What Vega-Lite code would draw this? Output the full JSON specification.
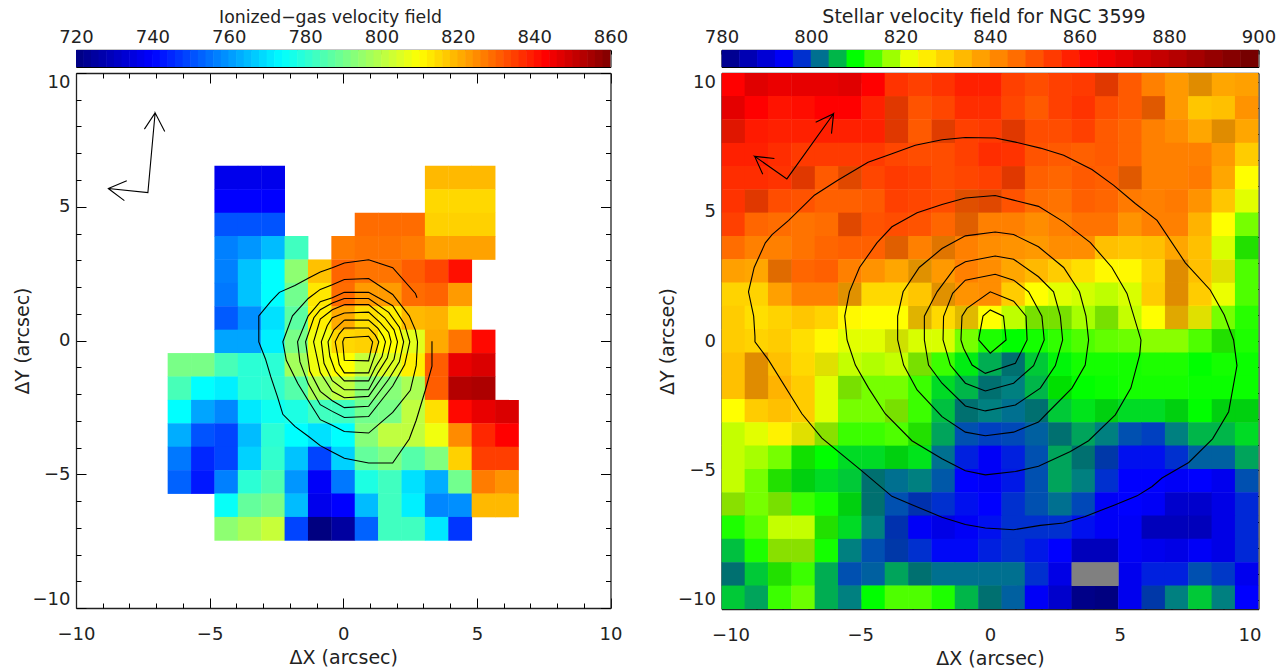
{"$schema":"https://vega.github.io/schema/vega-lite/v6.json","background":"white","padding":{"left":13,"top":6,"right":0,"bottom":0},"autosize":{"type":"pad"},"bounds":"flush","spacing":{"row":6,"column":110.5},"columns":2,"resolve":{"scale":{"color":"independent"}},
"config":{"view":{"stroke":null},"axis":{"labelFont":"DejaVu Sans","titleFont":"DejaVu Sans","labelFontSize":18,"titleFontSize":19,"labelColor":"#222","titleColor":"#222","titleFontWeight":"normal","grid":false,"tickColor":"black","domainColor":"#222","domainWidth":1.3,"zindex":1,"labelFlush":false}},
"datasets":{
"barG":[{"v":721},{"v":723},{"v":725},{"v":727},{"v":729},{"v":731},{"v":733},{"v":735},{"v":737},{"v":739},{"v":741},{"v":743},{"v":745},{"v":747},{"v":749},{"v":751},{"v":753},{"v":755},{"v":757},{"v":759},{"v":761},{"v":763},{"v":765},{"v":767},{"v":769},{"v":771},{"v":773},{"v":775},{"v":777},{"v":779},{"v":781},{"v":783},{"v":785},{"v":787},{"v":789},{"v":791},{"v":793},{"v":795},{"v":797},{"v":799},{"v":801},{"v":803},{"v":805},{"v":807},{"v":809},{"v":811},{"v":813},{"v":815},{"v":817},{"v":819},{"v":821},{"v":823},{"v":825},{"v":827},{"v":829},{"v":831},{"v":833},{"v":835},{"v":837},{"v":839},{"v":841},{"v":843},{"v":845},{"v":847},{"v":849},{"v":851},{"v":853},{"v":855},{"v":857},{"v":859}],
"barS":[{"v":782},{"v":786},{"v":790},{"v":794},{"v":798},{"v":802},{"v":806},{"v":810},{"v":814},{"v":818},{"v":822},{"v":826},{"v":830},{"v":834},{"v":838},{"v":842},{"v":846},{"v":850},{"v":854},{"v":858},{"v":862},{"v":866},{"v":870},{"v":874},{"v":878},{"v":882},{"v":886},{"v":890},{"v":894},{"v":898}],
"gas":[
{"x":-4.375,"y":6.085,"v":737},{"x":-3.5,"y":6.085,"v":737},{"x":-2.625,"y":6.085,"v":737},{"x":3.5,"y":6.085,"v":819},{"x":4.375,"y":6.085,"v":819},{"x":5.25,"y":6.085,"v":819},
{"x":-4.375,"y":5.21,"v":740},{"x":-3.5,"y":5.21,"v":740},{"x":-2.625,"y":5.21,"v":740},{"x":3.5,"y":5.21,"v":815},{"x":4.375,"y":5.21,"v":815},{"x":5.25,"y":5.21,"v":815},
{"x":-4.375,"y":4.335,"v":751},{"x":-3.5,"y":4.335,"v":751},{"x":-2.625,"y":4.335,"v":751},{"x":0.875,"y":4.335,"v":829},{"x":1.75,"y":4.335,"v":829},{"x":2.625,"y":4.335,"v":829},{"x":3.5,"y":4.335,"v":816},{"x":4.375,"y":4.335,"v":816},{"x":5.25,"y":4.335,"v":816},
{"x":-4.375,"y":3.46,"v":757},{"x":-3.5,"y":3.46,"v":760},{"x":-2.625,"y":3.46,"v":765},{"x":-1.75,"y":3.46,"v":783},{"x":0,"y":3.46,"v":827},{"x":0.875,"y":3.46,"v":828},{"x":1.75,"y":3.46,"v":828},{"x":2.625,"y":3.46,"v":827},{"x":3.5,"y":3.46,"v":822},{"x":4.375,"y":3.46,"v":822},{"x":5.25,"y":3.46,"v":822},
{"x":-4.375,"y":2.585,"v":757},{"x":-3.5,"y":2.585,"v":766},{"x":-2.625,"y":2.585,"v":774},{"x":-1.75,"y":2.585,"v":794},{"x":-0.875,"y":2.585,"v":818},{"x":0,"y":2.585,"v":830},{"x":0.875,"y":2.585,"v":828},{"x":1.75,"y":2.585,"v":828},{"x":2.625,"y":2.585,"v":831},{"x":3.5,"y":2.585,"v":834},{"x":4.375,"y":2.585,"v":841},
{"x":-4.375,"y":1.71,"v":756},{"x":-3.5,"y":1.71,"v":766},{"x":-2.625,"y":1.71,"v":774},{"x":-1.75,"y":1.71,"v":790},{"x":-0.875,"y":1.71,"v":813},{"x":0,"y":1.71,"v":829},{"x":0.875,"y":1.71,"v":823},{"x":1.75,"y":1.71,"v":823},{"x":2.625,"y":1.71,"v":829},{"x":3.5,"y":1.71,"v":830},{"x":4.375,"y":1.71,"v":823},
{"x":-4.375,"y":0.835,"v":752},{"x":-3.5,"y":0.835,"v":759},{"x":-2.625,"y":0.835,"v":770},{"x":-1.75,"y":0.835,"v":787},{"x":-0.875,"y":0.835,"v":812},{"x":0,"y":0.835,"v":821},{"x":0.875,"y":0.835,"v":814},{"x":1.75,"y":0.835,"v":812},{"x":2.625,"y":0.835,"v":819},{"x":3.5,"y":0.835,"v":820},{"x":4.375,"y":0.835,"v":814},
{"x":-4.375,"y":-0.04,"v":762},{"x":-3.5,"y":-0.04,"v":762},{"x":-2.625,"y":-0.04,"v":772},{"x":-1.75,"y":-0.04,"v":791},{"x":-0.875,"y":-0.04,"v":808},{"x":0,"y":-0.04,"v":815},{"x":0.875,"y":-0.04,"v":816},{"x":1.75,"y":-0.04,"v":810},{"x":2.625,"y":-0.04,"v":806},{"x":3.5,"y":-0.04,"v":821},{"x":4.375,"y":-0.04,"v":828},{"x":5.25,"y":-0.04,"v":842},
{"x":-6.125,"y":-0.915,"v":791},{"x":-5.25,"y":-0.915,"v":791},{"x":-4.375,"y":-0.915,"v":784},{"x":-3.5,"y":-0.915,"v":780},{"x":-2.625,"y":-0.915,"v":780},{"x":-1.75,"y":-0.915,"v":797},{"x":-0.875,"y":-0.915,"v":808},{"x":0,"y":-0.915,"v":810},{"x":0.875,"y":-0.915,"v":802},{"x":1.75,"y":-0.915,"v":805},{"x":2.625,"y":-0.915,"v":812},{"x":3.5,"y":-0.915,"v":831},{"x":4.375,"y":-0.915,"v":846},{"x":5.25,"y":-0.915,"v":848},
{"x":-6.125,"y":-1.79,"v":784},{"x":-5.25,"y":-1.79,"v":774},{"x":-4.375,"y":-1.79,"v":772},{"x":-3.5,"y":-1.79,"v":780},{"x":-2.625,"y":-1.79,"v":781},{"x":-1.75,"y":-1.79,"v":786},{"x":-0.875,"y":-1.79,"v":798},{"x":0,"y":-1.79,"v":801},{"x":0.875,"y":-1.79,"v":793},{"x":1.75,"y":-1.79,"v":793},{"x":2.625,"y":-1.79,"v":798},{"x":3.5,"y":-1.79,"v":831},{"x":4.375,"y":-1.79,"v":853},{"x":5.25,"y":-1.79,"v":854},
{"x":-6.125,"y":-2.665,"v":774},{"x":-5.25,"y":-2.665,"v":762},{"x":-4.375,"y":-2.665,"v":758},{"x":-3.5,"y":-2.665,"v":771},{"x":-2.625,"y":-2.665,"v":776},{"x":-1.75,"y":-2.665,"v":778},{"x":-0.875,"y":-2.665,"v":783},{"x":0,"y":-2.665,"v":783},{"x":0.875,"y":-2.665,"v":790},{"x":1.75,"y":-2.665,"v":791},{"x":2.625,"y":-2.665,"v":801},{"x":3.5,"y":-2.665,"v":814},{"x":4.375,"y":-2.665,"v":842},{"x":5.25,"y":-2.665,"v":846},{"x":6.125,"y":-2.665,"v":848},
{"x":-6.125,"y":-3.54,"v":763},{"x":-5.25,"y":-3.54,"v":751},{"x":-4.375,"y":-3.54,"v":749},{"x":-3.5,"y":-3.54,"v":765},{"x":-2.625,"y":-3.54,"v":780},{"x":-1.75,"y":-3.54,"v":774},{"x":-0.875,"y":-3.54,"v":770},{"x":0,"y":-3.54,"v":774},{"x":0.875,"y":-3.54,"v":793},{"x":1.75,"y":-3.54,"v":801},{"x":2.625,"y":-3.54,"v":801},{"x":3.5,"y":-3.54,"v":808},{"x":4.375,"y":-3.54,"v":825},{"x":5.25,"y":-3.54,"v":838},{"x":6.125,"y":-3.54,"v":843},
{"x":-6.125,"y":-4.415,"v":756},{"x":-5.25,"y":-4.415,"v":745},{"x":-4.375,"y":-4.415,"v":749},{"x":-3.5,"y":-4.415,"v":768},{"x":-2.625,"y":-4.415,"v":781},{"x":-1.75,"y":-4.415,"v":766},{"x":-0.875,"y":-4.415,"v":749},{"x":0,"y":-4.415,"v":768},{"x":0.875,"y":-4.415,"v":788},{"x":1.75,"y":-4.415,"v":792},{"x":2.625,"y":-4.415,"v":786},{"x":3.5,"y":-4.415,"v":792},{"x":4.375,"y":-4.415,"v":816},{"x":5.25,"y":-4.415,"v":835},{"x":6.125,"y":-4.415,"v":835},
{"x":-6.125,"y":-5.29,"v":753},{"x":-5.25,"y":-5.29,"v":743},{"x":-4.375,"y":-5.29,"v":757},{"x":-3.5,"y":-5.29,"v":780},{"x":-2.625,"y":-5.29,"v":785},{"x":-1.75,"y":-5.29,"v":760},{"x":-0.875,"y":-5.29,"v":739},{"x":0,"y":-5.29,"v":756},{"x":0.875,"y":-5.29,"v":778},{"x":1.75,"y":-5.29,"v":783},{"x":2.625,"y":-5.29,"v":770},{"x":3.5,"y":-5.29,"v":763},{"x":4.375,"y":-5.29,"v":790},{"x":5.25,"y":-5.29,"v":827},{"x":6.125,"y":-5.29,"v":824},
{"x":-4.375,"y":-6.165,"v":775},{"x":-3.5,"y":-6.165,"v":788},{"x":-2.625,"y":-6.165,"v":791},{"x":-1.75,"y":-6.165,"v":765},{"x":-0.875,"y":-6.165,"v":737},{"x":0,"y":-6.165,"v":740},{"x":0.875,"y":-6.165,"v":765},{"x":1.75,"y":-6.165,"v":783},{"x":2.625,"y":-6.165,"v":772},{"x":3.5,"y":-6.165,"v":758},{"x":4.375,"y":-6.165,"v":759},{"x":5.25,"y":-6.165,"v":819},{"x":6.125,"y":-6.165,"v":819},
{"x":-4.375,"y":-7.04,"v":794},{"x":-3.5,"y":-7.04,"v":798},{"x":-2.625,"y":-7.04,"v":802},{"x":-1.75,"y":-7.04,"v":749},{"x":-0.875,"y":-7.04,"v":720},{"x":0,"y":-7.04,"v":725},{"x":0.875,"y":-7.04,"v":753},{"x":1.75,"y":-7.04,"v":783},{"x":2.625,"y":-7.04,"v":783},{"x":3.5,"y":-7.04,"v":771},{"x":4.375,"y":-7.04,"v":747}
],
"gasLines":[
{"c":1,"i":0,"x":2.76,"y":1.6},{"c":1,"i":1,"x":2.7,"y":1.76},{"c":1,"i":2,"x":1.85,"y":2.72},{"c":1,"i":3,"x":0.95,"y":3.02},{"c":1,"i":4,"x":0.04,"y":2.9},{"c":1,"i":5,"x":-0.41,"y":2.72},{"c":1,"i":6,"x":-0.86,"y":2.56},{"c":1,"i":7,"x":-1.31,"y":2.33},{"c":1,"i":8,"x":-1.81,"y":2.06},{"c":1,"i":9,"x":-2.39,"y":1.8},{"c":1,"i":10,"x":-2.71,"y":1.46},{"c":1,"i":11,"x":-3.16,"y":0.92},{"c":1,"i":12,"x":-3.16,"y":-0.05},{"c":1,"i":13,"x":-2.91,"y":-0.69},{"c":1,"i":14,"x":-2.71,"y":-1.36},{"c":1,"i":15,"x":-2.46,"y":-2.11},{"c":1,"i":16,"x":-2.26,"y":-2.76},{"c":1,"i":17,"x":-1.81,"y":-3.21},{"c":1,"i":18,"x":-1.31,"y":-3.58},{"c":1,"i":19,"x":-0.86,"y":-3.93},{"c":1,"i":20,"x":-0.41,"y":-4.17},{"c":1,"i":21,"x":0.04,"y":-4.4},{"c":1,"i":22,"x":0.95,"y":-4.58},{"c":1,"i":23,"x":1.85,"y":-4.58},{"c":1,"i":24,"x":2.47,"y":-3.68},{"c":1,"i":25,"x":2.73,"y":-2.98},{"c":1,"i":26,"x":3.07,"y":-1.86},{"c":1,"i":27,"x":3.32,"y":-0.96},{"c":1,"i":28,"x":3.32,"y":-0.03},
{"c":2,"i":0,"x":2.78,"y":-0.05},{"c":2,"i":1,"x":2.7,"y":0.39},{"c":2,"i":2,"x":2.47,"y":0.92},{"c":2,"i":3,"x":1.85,"y":1.72},{"c":2,"i":4,"x":0.95,"y":2.32},{"c":2,"i":5,"x":0.04,"y":2.28},{"c":2,"i":6,"x":-0.41,"y":2.08},{"c":2,"i":7,"x":-0.86,"y":1.91},{"c":2,"i":8,"x":-1.31,"y":1.57},{"c":2,"i":9,"x":-1.9,"y":0.92},{"c":2,"i":10,"x":-2.26,"y":-0.05},{"c":2,"i":11,"x":-2.13,"y":-0.74},{"c":2,"i":12,"x":-1.7,"y":-1.61},{"c":2,"i":13,"x":-1.31,"y":-2.24},{"c":2,"i":14,"x":-0.86,"y":-2.96},{"c":2,"i":15,"x":-0.41,"y":-3.17},{"c":2,"i":16,"x":0.04,"y":-3.4},{"c":2,"i":17,"x":0.95,"y":-3.46},{"c":2,"i":18,"x":1.85,"y":-2.69},{"c":2,"i":19,"x":2.51,"y":-1.86},{"c":2,"i":20,"x":2.73,"y":-0.93},{"c":2,"i":21,"x":2.78,"y":-0.05},
{"c":3,"i":0,"x":0.04,"y":1.8},{"c":3,"i":1,"x":0.95,"y":1.8},{"c":3,"i":2,"x":1.85,"y":1.3},{"c":3,"i":3,"x":2.3,"y":0.6},{"c":3,"i":4,"x":2.49,"y":-0.05},{"c":3,"i":5,"x":2.3,"y":-0.9},{"c":3,"i":6,"x":1.85,"y":-1.7},{"c":3,"i":7,"x":0.95,"y":-2.84},{"c":3,"i":8,"x":0.04,"y":-2.88},{"c":3,"i":9,"x":-0.41,"y":-2.65},{"c":3,"i":10,"x":-0.86,"y":-2.4},{"c":3,"i":11,"x":-1.31,"y":-1.62},{"c":3,"i":12,"x":-1.62,"y":-0.8},{"c":3,"i":13,"x":-1.71,"y":-0.05},{"c":3,"i":14,"x":-1.31,"y":0.92},{"c":3,"i":15,"x":-0.86,"y":1.45},{"c":3,"i":16,"x":-0.41,"y":1.6},{"c":3,"i":17,"x":0.04,"y":1.8},
{"c":4,"i":0,"x":0.04,"y":1.57},{"c":4,"i":1,"x":0.95,"y":1.57},{"c":4,"i":2,"x":1.7,"y":1.05},{"c":4,"i":3,"x":2.1,"y":0.5},{"c":4,"i":4,"x":2.26,"y":-0.05},{"c":4,"i":5,"x":2.1,"y":-0.8},{"c":4,"i":6,"x":1.7,"y":-1.45},{"c":4,"i":7,"x":0.95,"y":-2.46},{"c":4,"i":8,"x":0.04,"y":-2.51},{"c":4,"i":9,"x":-0.41,"y":-2.25},{"c":4,"i":10,"x":-0.86,"y":-1.9},{"c":4,"i":11,"x":-1.25,"y":-1.15},{"c":4,"i":12,"x":-1.41,"y":-0.05},{"c":4,"i":13,"x":-1.1,"y":0.85},{"c":4,"i":14,"x":-0.86,"y":1.15},{"c":4,"i":15,"x":-0.41,"y":1.4},{"c":4,"i":16,"x":0.04,"y":1.57},
{"c":5,"i":0,"x":0.04,"y":1.34},{"c":5,"i":1,"x":0.95,"y":1.34},{"c":5,"i":2,"x":1.55,"y":0.85},{"c":5,"i":3,"x":1.9,"y":0.4},{"c":5,"i":4,"x":2.03,"y":-0.05},{"c":5,"i":5,"x":1.9,"y":-0.7},{"c":5,"i":6,"x":1.5,"y":-1.3},{"c":5,"i":7,"x":0.95,"y":-2.09},{"c":5,"i":8,"x":0.04,"y":-2.14},{"c":5,"i":9,"x":-0.41,"y":-1.9},{"c":5,"i":10,"x":-0.86,"y":-1.2},{"c":5,"i":11,"x":-1.11,"y":-0.05},{"c":5,"i":12,"x":-0.86,"y":0.8},{"c":5,"i":13,"x":-0.41,"y":1.15},{"c":5,"i":14,"x":0.04,"y":1.34},
{"c":6,"i":0,"x":0.04,"y":1.03},{"c":6,"i":1,"x":0.95,"y":1.06},{"c":6,"i":2,"x":1.4,"y":0.65},{"c":6,"i":3,"x":1.7,"y":0.3},{"c":6,"i":4,"x":1.79,"y":-0.05},{"c":6,"i":5,"x":1.65,"y":-0.65},{"c":6,"i":6,"x":1.3,"y":-1.2},{"c":6,"i":7,"x":0.95,"y":-1.84},{"c":6,"i":8,"x":0.04,"y":-1.84},{"c":6,"i":9,"x":-0.41,"y":-1.5},{"c":6,"i":10,"x":-0.72,"y":-0.85},{"c":6,"i":11,"x":-0.82,"y":-0.05},{"c":6,"i":12,"x":-0.6,"y":0.55},{"c":6,"i":13,"x":-0.41,"y":0.85},{"c":6,"i":14,"x":0.04,"y":1.03},
{"c":7,"i":0,"x":0.04,"y":0.76},{"c":7,"i":1,"x":0.95,"y":0.76},{"c":7,"i":2,"x":1.3,"y":0.45},{"c":7,"i":3,"x":1.5,"y":0.15},{"c":7,"i":4,"x":1.58,"y":-0.05},{"c":7,"i":5,"x":1.45,"y":-0.6},{"c":7,"i":6,"x":1.2,"y":-1},{"c":7,"i":7,"x":0.95,"y":-1.51},{"c":7,"i":8,"x":0.04,"y":-1.51},{"c":7,"i":9,"x":-0.3,"y":-1.15},{"c":7,"i":10,"x":-0.5,"y":-0.6},{"c":7,"i":11,"x":-0.57,"y":-0.05},{"c":7,"i":12,"x":-0.35,"y":0.4},{"c":7,"i":13,"x":0.04,"y":0.76},
{"c":8,"i":0,"x":0.04,"y":0.47},{"c":8,"i":1,"x":0.95,"y":0.47},{"c":8,"i":2,"x":1.2,"y":0.2},{"c":8,"i":3,"x":1.33,"y":-0.05},{"c":8,"i":4,"x":1.2,"y":-0.5},{"c":8,"i":5,"x":0.95,"y":-1.21},{"c":8,"i":6,"x":0.04,"y":-1.21},{"c":8,"i":7,"x":-0.15,"y":-0.9},{"c":8,"i":8,"x":-0.3,"y":-0.05},{"c":8,"i":9,"x":-0.15,"y":0.25},{"c":8,"i":10,"x":0.04,"y":0.47},
{"c":9,"i":0,"x":0.04,"y":0.1},{"c":9,"i":1,"x":0.95,"y":0.16},{"c":9,"i":2,"x":1.1,"y":-0.05},{"c":9,"i":3,"x":0.95,"y":-0.76},{"c":9,"i":4,"x":0.04,"y":-0.74},{"c":9,"i":5,"x":-0.02,"y":-0.05},{"c":9,"i":6,"x":0.04,"y":0.1},
{"c":10,"i":0,"x":-7.44,"y":7.9},{"c":10,"i":1,"x":-7.04,"y":8.51},{"c":10,"i":2,"x":-6.68,"y":7.81},{"c":10,"i":3,"x":-7.04,"y":8.51},{"c":10,"i":4,"x":-7.31,"y":5.53},{"c":10,"i":5,"x":-8.79,"y":5.68},{"c":10,"i":6,"x":-8.1,"y":5.97},{"c":10,"i":7,"x":-8.79,"y":5.68},{"c":10,"i":8,"x":-8.19,"y":5.23}
],
"stars":[
{"x":-9.9,"y":9.9,"v":863},{"x":-9,"y":9.9,"v":871},{"x":-8.1,"y":9.9,"v":868},{"x":-7.2,"y":9.9,"v":869},{"x":-6.3,"y":9.9,"v":869},{"x":-5.4,"y":9.9,"v":871},{"x":-4.5,"y":9.9,"v":863},{"x":-3.6,"y":9.9,"v":855},{"x":-2.7,"y":9.9,"v":853},{"x":-1.8,"y":9.9,"v":855},{"x":-0.9,"y":9.9,"v":858},{"x":0,"y":9.9,"v":858},{"x":0.9,"y":9.9,"v":853},{"x":1.8,"y":9.9,"v":851},{"x":2.7,"y":9.9,"v":853},{"x":3.6,"y":9.9,"v":854},{"x":4.5,"y":9.9,"v":853,"d":1},{"x":5.4,"y":9.9,"v":849},{"x":6.3,"y":9.9,"v":843},{"x":7.2,"y":9.9,"v":839},{"x":8.1,"y":9.9,"v":838,"d":1},{"x":9,"y":9.9,"v":837},{"x":9.9,"y":9.9,"v":838},
{"x":-9.9,"y":9,"v":870},{"x":-9,"y":9,"v":863},{"x":-8.1,"y":9,"v":860},{"x":-7.2,"y":9,"v":861},{"x":-6.3,"y":9,"v":863},{"x":-5.4,"y":9,"v":863},{"x":-4.5,"y":9,"v":858},{"x":-3.6,"y":9,"v":853,"d":1},{"x":-2.7,"y":9,"v":850},{"x":-1.8,"y":9,"v":852},{"x":-0.9,"y":9,"v":856},{"x":0,"y":9,"v":856},{"x":0.9,"y":9,"v":852},{"x":1.8,"y":9,"v":849},{"x":2.7,"y":9,"v":853},{"x":3.6,"y":9,"v":855},{"x":4.5,"y":9,"v":851},{"x":5.4,"y":9,"v":849},{"x":6.3,"y":9,"v":847,"d":1},{"x":7.2,"y":9,"v":839},{"x":8.1,"y":9,"v":832},{"x":9,"y":9,"v":833},{"x":9.9,"y":9,"v":840},
{"x":-9.9,"y":8.1,"v":859,"d":1},{"x":-9,"y":8.1,"v":859},{"x":-8.1,"y":8.1,"v":858},{"x":-7.2,"y":8.1,"v":858},{"x":-6.3,"y":8.1,"v":858},{"x":-5.4,"y":8.1,"v":858},{"x":-4.5,"y":8.1,"v":858},{"x":-3.6,"y":8.1,"v":853,"d":1},{"x":-2.7,"y":8.1,"v":849},{"x":-1.8,"y":8.1,"v":852,"d":1},{"x":-0.9,"y":8.1,"v":853},{"x":0,"y":8.1,"v":854},{"x":0.9,"y":8.1,"v":853,"d":1},{"x":1.8,"y":8.1,"v":851},{"x":2.7,"y":8.1,"v":851},{"x":3.6,"y":8.1,"v":853},{"x":4.5,"y":8.1,"v":849},{"x":5.4,"y":8.1,"v":847},{"x":6.3,"y":8.1,"v":843},{"x":7.2,"y":8.1,"v":841},{"x":8.1,"y":8.1,"v":837},{"x":9,"y":8.1,"v":838,"d":1},{"x":9.9,"y":8.1,"v":837},
{"x":-9.9,"y":7.2,"v":858},{"x":-9,"y":7.2,"v":858},{"x":-8.1,"y":7.2,"v":856},{"x":-7.2,"y":7.2,"v":854},{"x":-6.3,"y":7.2,"v":854},{"x":-5.4,"y":7.2,"v":854},{"x":-4.5,"y":7.2,"v":854},{"x":-3.6,"y":7.2,"v":852},{"x":-2.7,"y":7.2,"v":851},{"x":-1.8,"y":7.2,"v":851},{"x":-0.9,"y":7.2,"v":853},{"x":0,"y":7.2,"v":856},{"x":0.9,"y":7.2,"v":855},{"x":1.8,"y":7.2,"v":850},{"x":2.7,"y":7.2,"v":849},{"x":3.6,"y":7.2,"v":848},{"x":4.5,"y":7.2,"v":849},{"x":5.4,"y":7.2,"v":847},{"x":6.3,"y":7.2,"v":843},{"x":7.2,"y":7.2,"v":843},{"x":8.1,"y":7.2,"v":843},{"x":9,"y":7.2,"v":839},{"x":9.9,"y":7.2,"v":831},
{"x":-9.9,"y":6.3,"v":856},{"x":-9,"y":6.3,"v":856},{"x":-8.1,"y":6.3,"v":855},{"x":-7.2,"y":6.3,"v":853,"d":1},{"x":-6.3,"y":6.3,"v":849},{"x":-5.4,"y":6.3,"v":850,"d":1},{"x":-4.5,"y":6.3,"v":852},{"x":-3.6,"y":6.3,"v":854},{"x":-2.7,"y":6.3,"v":853},{"x":-1.8,"y":6.3,"v":851},{"x":-0.9,"y":6.3,"v":852},{"x":0,"y":6.3,"v":853},{"x":0.9,"y":6.3,"v":853,"d":1},{"x":1.8,"y":6.3,"v":848},{"x":2.7,"y":6.3,"v":847},{"x":3.6,"y":6.3,"v":849},{"x":4.5,"y":6.3,"v":848},{"x":5.4,"y":6.3,"v":847,"d":1},{"x":6.3,"y":6.3,"v":843},{"x":7.2,"y":6.3,"v":843},{"x":8.1,"y":6.3,"v":844},{"x":9,"y":6.3,"v":837},{"x":9.9,"y":6.3,"v":823},
{"x":-9.9,"y":5.4,"v":855},{"x":-9,"y":5.4,"v":853,"d":1},{"x":-8.1,"y":5.4,"v":851},{"x":-7.2,"y":5.4,"v":850},{"x":-6.3,"y":5.4,"v":848},{"x":-5.4,"y":5.4,"v":848},{"x":-4.5,"y":5.4,"v":849},{"x":-3.6,"y":5.4,"v":853},{"x":-2.7,"y":5.4,"v":852},{"x":-1.8,"y":5.4,"v":851},{"x":-0.9,"y":5.4,"v":849,"d":1},{"x":0,"y":5.4,"v":850,"d":1},{"x":0.9,"y":5.4,"v":850},{"x":1.8,"y":5.4,"v":846},{"x":2.7,"y":5.4,"v":845},{"x":3.6,"y":5.4,"v":848},{"x":4.5,"y":5.4,"v":847},{"x":5.4,"y":5.4,"v":844},{"x":6.3,"y":5.4,"v":843},{"x":7.2,"y":5.4,"v":844},{"x":8.1,"y":5.4,"v":840},{"x":9,"y":5.4,"v":832},{"x":9.9,"y":5.4,"v":821.5},
{"x":-9.9,"y":4.5,"v":853},{"x":-9,"y":4.5,"v":847},{"x":-8.1,"y":4.5,"v":846},{"x":-7.2,"y":4.5,"v":845},{"x":-6.3,"y":4.5,"v":846},{"x":-5.4,"y":4.5,"v":850,"d":1},{"x":-4.5,"y":4.5,"v":850},{"x":-3.6,"y":4.5,"v":851},{"x":-2.7,"y":4.5,"v":850},{"x":-1.8,"y":4.5,"v":847},{"x":-0.9,"y":4.5,"v":846,"d":1},{"x":0,"y":4.5,"v":843},{"x":0.9,"y":4.5,"v":843},{"x":1.8,"y":4.5,"v":841},{"x":2.7,"y":4.5,"v":843},{"x":3.6,"y":4.5,"v":845},{"x":4.5,"y":4.5,"v":845},{"x":5.4,"y":4.5,"v":840},{"x":6.3,"y":4.5,"v":843},{"x":7.2,"y":4.5,"v":843},{"x":8.1,"y":4.5,"v":835},{"x":9,"y":4.5,"v":823},{"x":9.9,"y":4.5,"v":816},
{"x":-9.9,"y":3.6,"v":846},{"x":-9,"y":3.6,"v":843},{"x":-8.1,"y":3.6,"v":843},{"x":-7.2,"y":3.6,"v":845},{"x":-6.3,"y":3.6,"v":847},{"x":-5.4,"y":3.6,"v":848},{"x":-4.5,"y":3.6,"v":848},{"x":-3.6,"y":3.6,"v":846,"d":1},{"x":-2.7,"y":3.6,"v":843},{"x":-1.8,"y":3.6,"v":842,"d":1},{"x":-0.9,"y":3.6,"v":843},{"x":0,"y":3.6,"v":841},{"x":0.9,"y":3.6,"v":840},{"x":1.8,"y":3.6,"v":839},{"x":2.7,"y":3.6,"v":841},{"x":3.6,"y":3.6,"v":841},{"x":4.5,"y":3.6,"v":833},{"x":5.4,"y":3.6,"v":832},{"x":6.3,"y":3.6,"v":833},{"x":7.2,"y":3.6,"v":837},{"x":8.1,"y":3.6,"v":833},{"x":9,"y":3.6,"v":821},{"x":9.9,"y":3.6,"v":812,"d":1},
{"x":-9.9,"y":2.7,"v":838},{"x":-9,"y":2.7,"v":837},{"x":-8.1,"y":2.7,"v":844,"d":1},{"x":-7.2,"y":2.7,"v":847},{"x":-6.3,"y":2.7,"v":848},{"x":-5.4,"y":2.7,"v":843},{"x":-4.5,"y":2.7,"v":840},{"x":-3.6,"y":2.7,"v":837},{"x":-2.7,"y":2.7,"v":837,"d":1},{"x":-1.8,"y":2.7,"v":839},{"x":-0.9,"y":2.7,"v":843},{"x":0,"y":2.7,"v":841},{"x":0.9,"y":2.7,"v":837},{"x":1.8,"y":2.7,"v":834},{"x":2.7,"y":2.7,"v":831},{"x":3.6,"y":2.7,"v":828},{"x":4.5,"y":2.7,"v":824},{"x":5.4,"y":2.7,"v":824},{"x":6.3,"y":2.7,"v":830},{"x":7.2,"y":2.7,"v":838,"d":1},{"x":8.1,"y":2.7,"v":833},{"x":9,"y":2.7,"v":823,"d":1},{"x":9.9,"y":2.7,"v":814},
{"x":-9.9,"y":1.8,"v":830},{"x":-9,"y":1.8,"v":830},{"x":-8.1,"y":1.8,"v":838},{"x":-7.2,"y":1.8,"v":843},{"x":-6.3,"y":1.8,"v":843},{"x":-5.4,"y":1.8,"v":837,"d":1},{"x":-4.5,"y":1.8,"v":829},{"x":-3.6,"y":1.8,"v":829},{"x":-2.7,"y":1.8,"v":832},{"x":-1.8,"y":1.8,"v":837,"d":1},{"x":-0.9,"y":1.8,"v":840},{"x":0,"y":1.8,"v":841},{"x":0.9,"y":1.8,"v":831},{"x":1.8,"y":1.8,"v":823},{"x":2.7,"y":1.8,"v":821.5},{"x":3.6,"y":1.8,"v":820.7},{"x":4.5,"y":1.8,"v":819.7},{"x":5.4,"y":1.8,"v":821},{"x":6.3,"y":1.8,"v":831},{"x":7.2,"y":1.8,"v":838,"d":1},{"x":8.1,"y":1.8,"v":831},{"x":9,"y":1.8,"v":822},{"x":9.9,"y":1.8,"v":814},
{"x":-9.9,"y":0.9,"v":831},{"x":-9,"y":0.9,"v":828},{"x":-8.1,"y":0.9,"v":830},{"x":-7.2,"y":0.9,"v":832},{"x":-6.3,"y":0.9,"v":830},{"x":-5.4,"y":0.9,"v":824},{"x":-4.5,"y":0.9,"v":823},{"x":-3.6,"y":0.9,"v":823},{"x":-2.7,"y":0.9,"v":831,"d":1},{"x":-1.8,"y":0.9,"v":829},{"x":-0.9,"y":0.9,"v":830,"d":1},{"x":0,"y":0.9,"v":823},{"x":0.9,"y":0.9,"v":819.7},{"x":1.8,"y":0.9,"v":817,"d":1},{"x":2.7,"y":0.9,"v":817,"d":1},{"x":3.6,"y":0.9,"v":818.5},{"x":4.5,"y":0.9,"v":817,"d":1},{"x":5.4,"y":0.9,"v":820},{"x":6.3,"y":0.9,"v":823},{"x":7.2,"y":0.9,"v":833,"d":1},{"x":8.1,"y":0.9,"v":823,"d":1},{"x":9,"y":0.9,"v":816},{"x":9.9,"y":0.9,"v":812},
{"x":-9.9,"y":0,"v":831},{"x":-9,"y":0,"v":830},{"x":-8.1,"y":0,"v":831},{"x":-7.2,"y":0,"v":828},{"x":-6.3,"y":0,"v":824},{"x":-5.4,"y":0,"v":821.5},{"x":-4.5,"y":0,"v":821.5},{"x":-3.6,"y":0,"v":822,"d":1},{"x":-2.7,"y":0,"v":821},{"x":-1.8,"y":0,"v":821},{"x":-0.9,"y":0,"v":816},{"x":0,"y":0,"v":811.5},{"x":0.9,"y":0,"v":810},{"x":1.8,"y":0,"v":811},{"x":2.7,"y":0,"v":812.5},{"x":3.6,"y":0,"v":814},{"x":4.5,"y":0,"v":815},{"x":5.4,"y":0,"v":815.5},{"x":6.3,"y":0,"v":817},{"x":7.2,"y":0,"v":817},{"x":8.1,"y":0,"v":814},{"x":9,"y":0,"v":812,"d":1},{"x":9.9,"y":0,"v":811.5},
{"x":-9.9,"y":-0.9,"v":833},{"x":-9,"y":-0.9,"v":838,"d":1},{"x":-8.1,"y":-0.9,"v":833},{"x":-7.2,"y":-0.9,"v":829},{"x":-6.3,"y":-0.9,"v":823,"d":1},{"x":-5.4,"y":-0.9,"v":820},{"x":-4.5,"y":-0.9,"v":819},{"x":-3.6,"y":-0.9,"v":820},{"x":-2.7,"y":-0.9,"v":817,"d":1},{"x":-1.8,"y":-0.9,"v":813},{"x":-0.9,"y":-0.9,"v":809},{"x":0,"y":-0.9,"v":805.5},{"x":0.9,"y":-0.9,"v":803,"d":1},{"x":1.8,"y":-0.9,"v":807},{"x":2.7,"y":-0.9,"v":809.5},{"x":3.6,"y":-0.9,"v":811},{"x":4.5,"y":-0.9,"v":811},{"x":5.4,"y":-0.9,"v":811},{"x":6.3,"y":-0.9,"v":811.5},{"x":7.2,"y":-0.9,"v":811.5},{"x":8.1,"y":-0.9,"v":810},{"x":9,"y":-0.9,"v":811},{"x":9.9,"y":-0.9,"v":810.5},
{"x":-9.9,"y":-1.8,"v":833},{"x":-9,"y":-1.8,"v":838,"d":1},{"x":-8.1,"y":-1.8,"v":835},{"x":-7.2,"y":-1.8,"v":831},{"x":-6.3,"y":-1.8,"v":821.5},{"x":-5.4,"y":-1.8,"v":817,"d":1},{"x":-4.5,"y":-1.8,"v":816},{"x":-3.6,"y":-1.8,"v":816},{"x":-2.7,"y":-1.8,"v":813},{"x":-1.8,"y":-1.8,"v":808},{"x":-0.9,"y":-1.8,"v":806},{"x":0,"y":-1.8,"v":803,"d":1},{"x":0.9,"y":-1.8,"v":803},{"x":1.8,"y":-1.8,"v":806},{"x":2.7,"y":-1.8,"v":810,"d":1},{"x":3.6,"y":-1.8,"v":810},{"x":4.5,"y":-1.8,"v":810.5},{"x":5.4,"y":-1.8,"v":811},{"x":6.3,"y":-1.8,"v":811},{"x":7.2,"y":-1.8,"v":811},{"x":8.1,"y":-1.8,"v":810.5},{"x":9,"y":-1.8,"v":810.5},{"x":9.9,"y":-1.8,"v":810.5},
{"x":-9.9,"y":-2.7,"v":823},{"x":-9,"y":-2.7,"v":831},{"x":-8.1,"y":-2.7,"v":833},{"x":-7.2,"y":-2.7,"v":831},{"x":-6.3,"y":-2.7,"v":821.5},{"x":-5.4,"y":-2.7,"v":816},{"x":-4.5,"y":-2.7,"v":816},{"x":-3.6,"y":-2.7,"v":817,"d":1},{"x":-2.7,"y":-2.7,"v":813},{"x":-1.8,"y":-2.7,"v":806.5},{"x":-0.9,"y":-2.7,"v":803,"d":1},{"x":0,"y":-2.7,"v":803},{"x":0.9,"y":-2.7,"v":802},{"x":1.8,"y":-2.7,"v":803,"d":1},{"x":2.7,"y":-2.7,"v":807},{"x":3.6,"y":-2.7,"v":808.5},{"x":4.5,"y":-2.7,"v":809,"d":1},{"x":5.4,"y":-2.7,"v":808},{"x":6.3,"y":-2.7,"v":808},{"x":7.2,"y":-2.7,"v":809,"d":1},{"x":8.1,"y":-2.7,"v":810},{"x":9,"y":-2.7,"v":809,"d":1},{"x":9.9,"y":-2.7,"v":809,"d":1},
{"x":-9.9,"y":-3.6,"v":820},{"x":-9,"y":-3.6,"v":821.5},{"x":-8.1,"y":-3.6,"v":825},{"x":-7.2,"y":-3.6,"v":823,"d":1},{"x":-6.3,"y":-3.6,"v":818,"d":1},{"x":-5.4,"y":-3.6,"v":813},{"x":-4.5,"y":-3.6,"v":813},{"x":-3.6,"y":-3.6,"v":814},{"x":-2.7,"y":-3.6,"v":812,"d":1},{"x":-1.8,"y":-3.6,"v":805},{"x":-0.9,"y":-3.6,"v":800},{"x":0,"y":-3.6,"v":799},{"x":0.9,"y":-3.6,"v":799.5},{"x":1.8,"y":-3.6,"v":801},{"x":2.7,"y":-3.6,"v":803,"d":1},{"x":3.6,"y":-3.6,"v":805},{"x":4.5,"y":-3.6,"v":803},{"x":5.4,"y":-3.6,"v":800},{"x":6.3,"y":-3.6,"v":799},{"x":7.2,"y":-3.6,"v":803},{"x":8.1,"y":-3.6,"v":806},{"x":9,"y":-3.6,"v":806},{"x":9.9,"y":-3.6,"v":808},
{"x":-9.9,"y":-4.5,"v":820},{"x":-9,"y":-4.5,"v":818.5},{"x":-8.1,"y":-4.5,"v":816},{"x":-7.2,"y":-4.5,"v":811,"d":1},{"x":-6.3,"y":-4.5,"v":810},{"x":-5.4,"y":-4.5,"v":808},{"x":-4.5,"y":-4.5,"v":808},{"x":-3.6,"y":-4.5,"v":809,"d":1},{"x":-2.7,"y":-4.5,"v":808.5},{"x":-1.8,"y":-4.5,"v":802},{"x":-0.9,"y":-4.5,"v":797},{"x":0,"y":-4.5,"v":794},{"x":0.9,"y":-4.5,"v":797},{"x":1.8,"y":-4.5,"v":800},{"x":2.7,"y":-4.5,"v":805},{"x":3.6,"y":-4.5,"v":803,"d":1},{"x":4.5,"y":-4.5,"v":799,"d":1},{"x":5.4,"y":-4.5,"v":796},{"x":6.3,"y":-4.5,"v":796},{"x":7.2,"y":-4.5,"v":798},{"x":8.1,"y":-4.5,"v":801},{"x":9,"y":-4.5,"v":801},{"x":9.9,"y":-4.5,"v":805},
{"x":-9.9,"y":-5.4,"v":820},{"x":-9,"y":-5.4,"v":816},{"x":-8.1,"y":-5.4,"v":812,"d":1},{"x":-7.2,"y":-5.4,"v":809,"d":1},{"x":-6.3,"y":-5.4,"v":808},{"x":-5.4,"y":-5.4,"v":807},{"x":-4.5,"y":-5.4,"v":803,"d":1},{"x":-3.6,"y":-5.4,"v":802},{"x":-2.7,"y":-5.4,"v":803},{"x":-1.8,"y":-5.4,"v":800.5},{"x":-0.9,"y":-5.4,"v":795},{"x":0,"y":-5.4,"v":794},{"x":0.9,"y":-5.4,"v":796.5},{"x":1.8,"y":-5.4,"v":800},{"x":2.7,"y":-5.4,"v":805},{"x":3.6,"y":-5.4,"v":803},{"x":4.5,"y":-5.4,"v":798},{"x":5.4,"y":-5.4,"v":795},{"x":6.3,"y":-5.4,"v":795},{"x":7.2,"y":-5.4,"v":794},{"x":8.1,"y":-5.4,"v":795},{"x":9,"y":-5.4,"v":793},{"x":9.9,"y":-5.4,"v":800},
{"x":-9.9,"y":-6.3,"v":818,"d":1},{"x":-9,"y":-6.3,"v":816},{"x":-8.1,"y":-6.3,"v":817,"d":1},{"x":-7.2,"y":-6.3,"v":813},{"x":-6.3,"y":-6.3,"v":811},{"x":-5.4,"y":-6.3,"v":809,"d":1},{"x":-4.5,"y":-6.3,"v":803,"d":1},{"x":-3.6,"y":-6.3,"v":800},{"x":-2.7,"y":-6.3,"v":798.5,"d":1},{"x":-1.8,"y":-6.3,"v":798},{"x":-0.9,"y":-6.3,"v":796},{"x":0,"y":-6.3,"v":795},{"x":0.9,"y":-6.3,"v":798},{"x":1.8,"y":-6.3,"v":800},{"x":2.7,"y":-6.3,"v":802},{"x":3.6,"y":-6.3,"v":799.5},{"x":4.5,"y":-6.3,"v":794},{"x":5.4,"y":-6.3,"v":795},{"x":6.3,"y":-6.3,"v":794},{"x":7.2,"y":-6.3,"v":789},{"x":8.1,"y":-6.3,"v":789},{"x":9,"y":-6.3,"v":792},{"x":9.9,"y":-6.3,"v":797.5},
{"x":-9.9,"y":-7.2,"v":811.5},{"x":-9,"y":-7.2,"v":814.5},{"x":-8.1,"y":-7.2,"v":820},{"x":-7.2,"y":-7.2,"v":820},{"x":-6.3,"y":-7.2,"v":812,"d":1},{"x":-5.4,"y":-7.2,"v":808},{"x":-4.5,"y":-7.2,"v":803},{"x":-3.6,"y":-7.2,"v":798.5,"d":1},{"x":-2.7,"y":-7.2,"v":794},{"x":-1.8,"y":-7.2,"v":792},{"x":-0.9,"y":-7.2,"v":794},{"x":0,"y":-7.2,"v":796},{"x":0.9,"y":-7.2,"v":798},{"x":1.8,"y":-7.2,"v":798},{"x":2.7,"y":-7.2,"v":798},{"x":3.6,"y":-7.2,"v":796},{"x":4.5,"y":-7.2,"v":794},{"x":5.4,"y":-7.2,"v":794},{"x":6.3,"y":-7.2,"v":787},{"x":7.2,"y":-7.2,"v":787},{"x":8.1,"y":-7.2,"v":787},{"x":9,"y":-7.2,"v":792},{"x":9.9,"y":-7.2,"v":797.5},
{"x":-9.9,"y":-8.1,"v":806.5},{"x":-9,"y":-8.1,"v":811.5},{"x":-8.1,"y":-8.1,"v":818,"d":1},{"x":-7.2,"y":-8.1,"v":818,"d":1},{"x":-6.3,"y":-8.1,"v":811},{"x":-5.4,"y":-8.1,"v":803},{"x":-4.5,"y":-8.1,"v":800},{"x":-3.6,"y":-8.1,"v":799,"d":1},{"x":-2.7,"y":-8.1,"v":798},{"x":-1.8,"y":-8.1,"v":795.5},{"x":-0.9,"y":-8.1,"v":795.5},{"x":0,"y":-8.1,"v":797},{"x":0.9,"y":-8.1,"v":798},{"x":1.8,"y":-8.1,"v":796.5},{"x":2.7,"y":-8.1,"v":795},{"x":3.6,"y":-8.1,"v":787},{"x":4.5,"y":-8.1,"v":787},{"x":5.4,"y":-8.1,"v":794},{"x":6.3,"y":-8.1,"v":793},{"x":7.2,"y":-8.1,"v":792},{"x":8.1,"y":-8.1,"v":794},{"x":9,"y":-8.1,"v":792},{"x":9.9,"y":-8.1,"v":797.5},
{"x":-9.9,"y":-9,"v":803,"d":1},{"x":-9,"y":-9,"v":807},{"x":-8.1,"y":-9,"v":812,"d":1},{"x":-7.2,"y":-9,"v":813},{"x":-6.3,"y":-9,"v":805.5},{"x":-5.4,"y":-9,"v":800},{"x":-4.5,"y":-9,"v":801},{"x":-3.6,"y":-9,"v":805},{"x":-2.7,"y":-9,"v":803,"d":1},{"x":-1.8,"y":-9,"v":802},{"x":-0.9,"y":-9,"v":802},{"x":0,"y":-9,"v":802},{"x":0.9,"y":-9,"v":802},{"x":1.8,"y":-9,"v":798},{"x":2.7,"y":-9,"v":792},{"x":3.6,"y":-9,"v":null},{"x":4.5,"y":-9,"v":null},{"x":5.4,"y":-9,"v":793},{"x":6.3,"y":-9,"v":797},{"x":7.2,"y":-9,"v":797},{"x":8.1,"y":-9,"v":800},{"x":9,"y":-9,"v":798.5},{"x":9.9,"y":-9,"v":793},
{"x":-9.9,"y":-9.9,"v":807},{"x":-9,"y":-9.9,"v":805},{"x":-8.1,"y":-9.9,"v":813},{"x":-7.2,"y":-9.9,"v":815.5},{"x":-6.3,"y":-9.9,"v":805.5},{"x":-5.4,"y":-9.9,"v":803},{"x":-4.5,"y":-9.9,"v":810},{"x":-3.6,"y":-9.9,"v":814},{"x":-2.7,"y":-9.9,"v":814},{"x":-1.8,"y":-9.9,"v":811.5},{"x":-0.9,"y":-9.9,"v":806},{"x":0,"y":-9.9,"v":803,"d":1},{"x":0.9,"y":-9.9,"v":801},{"x":1.8,"y":-9.9,"v":794},{"x":2.7,"y":-9.9,"v":789},{"x":3.6,"y":-9.9,"v":781},{"x":4.5,"y":-9.9,"v":780},{"x":5.4,"y":-9.9,"v":793},{"x":6.3,"y":-9.9,"v":799,"d":1},{"x":7.2,"y":-9.9,"v":803},{"x":8.1,"y":-9.9,"v":807},{"x":9,"y":-9.9,"v":803},{"x":9.9,"y":-9.9,"v":795}
],
"starLines":[
{"c":1,"i":0,"x":-9.06,"y":0.17},{"c":1,"i":1,"x":-9.11,"y":0.96},{"c":1,"i":2,"x":-9.31,"y":1.9},{"c":1,"i":3,"x":-9.09,"y":2.84},{"c":1,"i":4,"x":-8.66,"y":3.79},{"c":1,"i":5,"x":-8.4,"y":4.11},{"c":1,"i":6,"x":-7.76,"y":4.66},{"c":1,"i":7,"x":-6.77,"y":5.63},{"c":1,"i":8,"x":-5.87,"y":6.21},{"c":1,"i":9,"x":-4.7,"y":6.9},{"c":1,"i":10,"x":-3.78,"y":7.23},{"c":1,"i":11,"x":-2.88,"y":7.56},{"c":1,"i":12,"x":-1.85,"y":7.77},{"c":1,"i":13,"x":-0.95,"y":7.86},{"c":1,"i":14,"x":0.2,"y":7.84},{"c":1,"i":15,"x":0.98,"y":7.68},{"c":1,"i":16,"x":1.94,"y":7.45},{"c":1,"i":17,"x":2.84,"y":7.17},{"c":1,"i":18,"x":3.93,"y":6.62},{"c":1,"i":19,"x":4.77,"y":6.01},{"c":1,"i":20,"x":5.6,"y":5.31},{"c":1,"i":21,"x":6.44,"y":4.66},{"c":1,"i":22,"x":7.53,"y":3.02},{"c":1,"i":23,"x":8.49,"y":1.97},{"c":1,"i":24,"x":9.03,"y":1},{"c":1,"i":25,"x":9.39,"y":0.04},{"c":1,"i":26,"x":9.52,"y":-0.95},{"c":1,"i":27,"x":9.2,"y":-2.73},{"c":1,"i":28,"x":8.58,"y":-3.78},{"c":1,"i":29,"x":7.66,"y":-4.69},{"c":1,"i":30,"x":6.63,"y":-5.29},{"c":1,"i":31,"x":6.25,"y":-5.62},{"c":1,"i":32,"x":5.67,"y":-5.98},{"c":1,"i":33,"x":4.83,"y":-6.32},{"c":1,"i":34,"x":3.67,"y":-6.78},{"c":1,"i":35,"x":2.84,"y":-7.03},{"c":1,"i":36,"x":1.94,"y":-7.12},{"c":1,"i":37,"x":0.91,"y":-7.29},{"c":1,"i":38,"x":-0.18,"y":-7.22},{"c":1,"i":39,"x":-0.95,"y":-7.09},{"c":1,"i":40,"x":-1.85,"y":-6.81},{"c":1,"i":41,"x":-3.01,"y":-6.32},{"c":1,"i":42,"x":-3.78,"y":-6},{"c":1,"i":43,"x":-5,"y":-4.97},{"c":1,"i":44,"x":-6.48,"y":-3.75},{"c":1,"i":45,"x":-7.25,"y":-2.81},{"c":1,"i":46,"x":-8.54,"y":-0.73},{"c":1,"i":47,"x":-9.06,"y":-0.03},{"c":1,"i":48,"x":-9.06,"y":0.17},
{"c":2,"i":0,"x":-5.51,"y":0.04},{"c":2,"i":1,"x":-5.6,"y":0.96},{"c":2,"i":2,"x":-5.42,"y":1.9},{"c":2,"i":3,"x":-5.03,"y":2.84},{"c":2,"i":4,"x":-4.36,"y":3.79},{"c":2,"i":5,"x":-3.78,"y":4.41},{"c":2,"i":6,"x":-2.81,"y":4.95},{"c":2,"i":7,"x":-1.85,"y":5.27},{"c":2,"i":8,"x":-0.95,"y":5.52},{"c":2,"i":9,"x":0.2,"y":5.62},{"c":2,"i":10,"x":0.91,"y":5.44},{"c":2,"i":11,"x":1.87,"y":5.2},{"c":2,"i":12,"x":2.84,"y":4.6},{"c":2,"i":13,"x":3.87,"y":3.8},{"c":2,"i":14,"x":4.7,"y":2.84},{"c":2,"i":15,"x":5.28,"y":1.84},{"c":2,"i":16,"x":5.82,"y":0.04},{"c":2,"i":17,"x":5.77,"y":-0.54},{"c":2,"i":18,"x":5.43,"y":-1.82},{"c":2,"i":19,"x":4.83,"y":-2.85},{"c":2,"i":20,"x":3.8,"y":-3.85},{"c":2,"i":21,"x":3.1,"y":-4.27},{"c":2,"i":22,"x":1.87,"y":-4.84},{"c":2,"i":23,"x":0.98,"y":-5.04},{"c":2,"i":24,"x":-0.18,"y":-5.17},{"c":2,"i":25,"x":-0.95,"y":-5.01},{"c":2,"i":26,"x":-1.85,"y":-4.55},{"c":2,"i":27,"x":-3.01,"y":-3.85},{"c":2,"i":28,"x":-4.04,"y":-2.81},{"c":2,"i":29,"x":-4.68,"y":-1.82},{"c":2,"i":30,"x":-5.19,"y":-0.93},{"c":2,"i":31,"x":-5.51,"y":0.04},
{"c":3,"i":0,"x":-3.56,"y":0.04},{"c":3,"i":1,"x":-3.56,"y":0.96},{"c":3,"i":2,"x":-3.35,"y":1.9},{"c":3,"i":3,"x":-2.73,"y":2.84},{"c":3,"i":4,"x":-1.85,"y":3.57},{"c":3,"i":5,"x":-0.95,"y":4.06},{"c":3,"i":6,"x":0.2,"y":4.21},{"c":3,"i":7,"x":0.91,"y":4.11},{"c":3,"i":8,"x":1.87,"y":3.64},{"c":3,"i":9,"x":2.84,"y":2.84},{"c":3,"i":10,"x":3.45,"y":1.9},{"c":3,"i":11,"x":3.7,"y":0.96},{"c":3,"i":12,"x":3.8,"y":0.04},{"c":3,"i":13,"x":3.67,"y":-0.93},{"c":3,"i":14,"x":3.16,"y":-1.82},{"c":3,"i":15,"x":2.2,"y":-2.79},{"c":3,"i":16,"x":1.87,"y":-3.13},{"c":3,"i":17,"x":0.91,"y":-3.52},{"c":3,"i":18,"x":-0.18,"y":-3.66},{"c":3,"i":19,"x":-0.95,"y":-3.52},{"c":3,"i":20,"x":-1.85,"y":-2.92},{"c":3,"i":21,"x":-2.81,"y":-1.89},{"c":3,"i":22,"x":-3.33,"y":-0.93},{"c":3,"i":23,"x":-3.56,"y":0.04},
{"c":4,"i":0,"x":-2.53,"y":0.04},{"c":4,"i":1,"x":-2.53,"y":0.96},{"c":4,"i":2,"x":-2.04,"y":1.9},{"c":4,"i":3,"x":-1.34,"y":2.84},{"c":4,"i":4,"x":-0.95,"y":3.06},{"c":4,"i":5,"x":0.2,"y":3.28},{"c":4,"i":6,"x":0.91,"y":3.16},{"c":4,"i":7,"x":1.87,"y":2.48},{"c":4,"i":8,"x":2.45,"y":1.9},{"c":4,"i":9,"x":2.71,"y":0.96},{"c":4,"i":10,"x":2.8,"y":0.04},{"c":4,"i":11,"x":2.52,"y":-0.95},{"c":4,"i":12,"x":1.94,"y":-1.82},{"c":4,"i":13,"x":0.98,"y":-2.47},{"c":4,"i":14,"x":-0.18,"y":-2.7},{"c":4,"i":15,"x":-0.95,"y":-2.51},{"c":4,"i":16,"x":-1.85,"y":-1.63},{"c":4,"i":17,"x":-2.37,"y":-0.93},{"c":4,"i":18,"x":-2.53,"y":0.04},
{"c":5,"i":0,"x":-1.81,"y":0.04},{"c":5,"i":1,"x":-1.79,"y":0.94},{"c":5,"i":2,"x":-1.44,"y":1.84},{"c":5,"i":3,"x":-0.95,"y":2.35},{"c":5,"i":4,"x":0.2,"y":2.58},{"c":5,"i":5,"x":0.91,"y":2.35},{"c":5,"i":6,"x":1.49,"y":1.9},{"c":5,"i":7,"x":2,"y":0.96},{"c":5,"i":8,"x":2.09,"y":0.04},{"c":5,"i":9,"x":1.68,"y":-0.95},{"c":5,"i":10,"x":0.91,"y":-1.63},{"c":5,"i":11,"x":-0.18,"y":-1.93},{"c":5,"i":12,"x":-0.95,"y":-1.63},{"c":5,"i":13,"x":-1.53,"y":-0.93},{"c":5,"i":14,"x":-1.81,"y":0.04},
{"c":6,"i":0,"x":-1.12,"y":0.04},{"c":6,"i":1,"x":-1.08,"y":0.96},{"c":6,"i":2,"x":-0.89,"y":1.26},{"c":6,"i":3,"x":0.01,"y":1.9},{"c":6,"i":4,"x":0.91,"y":1.54},{"c":6,"i":5,"x":1.39,"y":0.96},{"c":6,"i":6,"x":1.43,"y":0.04},{"c":6,"i":7,"x":0.98,"y":-0.86},{"c":6,"i":8,"x":-0.18,"y":-1.25},{"c":6,"i":9,"x":-0.69,"y":-0.93},{"c":6,"i":10,"x":-1.02,"y":-0.28},{"c":6,"i":11,"x":-1.12,"y":0.04},
{"c":7,"i":0,"x":-0.44,"y":0.04},{"c":7,"i":1,"x":-0.27,"y":0.96},{"c":7,"i":2,"x":0.01,"y":1.2},{"c":7,"i":3,"x":0.52,"y":0.96},{"c":7,"i":4,"x":0.62,"y":0.04},{"c":7,"i":5,"x":0.01,"y":-0.47},{"c":7,"i":6,"x":-0.44,"y":0.04},
{"c":8,"i":0,"x":-6.72,"y":8.45},{"c":8,"i":1,"x":-6.03,"y":8.78},{"c":8,"i":2,"x":-6.11,"y":8.01},{"c":8,"i":3,"x":-6.03,"y":8.78},{"c":8,"i":4,"x":-7.83,"y":6.26},{"c":8,"i":5,"x":-9.07,"y":7.13},{"c":8,"i":6,"x":-8.31,"y":7.05},{"c":8,"i":7,"x":-9.07,"y":7.13},{"c":8,"i":8,"x":-8.76,"y":6.44}
]
},
"concat":[
{"width":534.5,"height":17,"view":{"stroke":"black"},"data":{"name":"barG"},"mark":{"type":"rect","width":8.2,"clip":true},"encoding":{
"x":{"field":"v","type":"quantitative","scale":{"domain":[720,860],"nice":false},"axis":{"orient":"top","values":[720,740,760,780,800,820,840,860],"tickSize":-4,"labelPadding":8,"title":"Ionized−gas velocity field","titleFontSize":17.3,"titlePadding":2,"titleX":254,"domain":true}},
"color":{"field":"v","type":"quantitative","legend":null,"scale":{"interpolate":"rgb","domain":[720,740,774,792,810,843,860],"range":["#000080","#0000ff","#00ffff","#80ff80","#ffff00","#ff0000","#800000"]}}}},
{"width":537,"height":17,"view":{"stroke":"black"},"data":{"name":"barS"},"mark":{"type":"rect","width":18.4,"clip":true},"encoding":{
"x":{"field":"v","type":"quantitative","scale":{"domain":[780,900],"nice":false},"axis":{"orient":"top","values":[780,800,820,840,860,880,900],"tickSize":-4,"labelPadding":8,"title":"Stellar velocity field for NGC 3599","titleFontSize":19,"titlePadding":2,"titleX":262,"domain":true}},
"color":{"field":"v","type":"quantitative","legend":null,"scale":{"interpolate":"rgb","domain":[780,795,803,810,823,843,863,900],"range":["#000080","#0000ff","#008080","#00ff00","#ffff00","#ff8000","#ff0000","#6e0000"]}}}},
{"width":534.5,"height":535,
"layer":[
{"data":{"name":"gas"},"mark":{"type":"rect","width":23.8,"height":23.8,"clip":true},"encoding":{
"x":{"field":"x","type":"quantitative","scale":{"domain":[-10,10],"nice":false},"axis":{"orient":"bottom","values":[-10,-5,0,5,10],"tickSize":-10,"labelPadding":27,"format":"d","title":"ΔX (arcsec)","titlePadding":5}},
"y":{"field":"y","type":"quantitative","scale":{"domain":[-10,10],"nice":false},"axis":{"orient":"left","values":[-10,-5,0,5,10],"tickSize":-10,"labelPadding":16,"labelFlush":true,"format":"d","title":"ΔY (arcsec)","titlePadding":0}},
"color":{"field":"v","type":"quantitative","legend":null,"scale":{"interpolate":"rgb","domain":[720,740,774,792,810,843,860],"range":["#000080","#0000ff","#00ffff","#80ff80","#ffff00","#ff0000","#800000"]}}}},
{"data":{"name":"gasLines"},"mark":{"type":"line","color":"black","strokeWidth":1.1,"interpolate":"linear"},"encoding":{"x":{"field":"x","type":"quantitative","axis":{"orient":"top","values":[-10,-5,0,5,10],"tickSize":-10,"labels":false,"title":null}},"y":{"field":"y","type":"quantitative","axis":{"orient":"right","values":[-10,-5,0,5,10],"tickSize":-10,"labels":false,"title":null}},"detail":{"field":"c"},"order":{"field":"i"}}},
{"data":{"name":"gasLines"},"mark":{"type":"point","opacity":0},"encoding":{"x":{"field":"x","type":"quantitative","axis":{"orient":"bottom","values":[-9,-8,-7,-6,-4,-3,-2,-1,1,2,3,4,6,7,8,9],"tickSize":-5,"labels":false,"domain":false,"title":null}},"y":{"field":"y","type":"quantitative","axis":{"orient":"left","values":[-9,-8,-7,-6,-4,-3,-2,-1,1,2,3,4,6,7,8,9],"tickSize":-5,"labels":false,"domain":false,"title":null}}}},
{"data":{"name":"gasLines"},"mark":{"type":"point","opacity":0},"encoding":{"x":{"field":"x","type":"quantitative","axis":{"orient":"top","values":[-9,-8,-7,-6,-4,-3,-2,-1,1,2,3,4,6,7,8,9],"tickSize":-5,"labels":false,"domain":false,"title":null}},"y":{"field":"y","type":"quantitative","axis":{"orient":"right","values":[-9,-8,-7,-6,-4,-3,-2,-1,1,2,3,4,6,7,8,9],"tickSize":-5,"labels":false,"domain":false,"title":null}}}}
],"resolve":{"axis":{"x":"independent","y":"independent"}}},
{"width":537,"height":536,
"layer":[
{"data":{"name":"stars"},"transform":[{"filter":"datum.v !== null"}],"mark":{"type":"rect","width":23.8,"height":23.8,"clip":true},"encoding":{
"x":{"field":"x","type":"quantitative","scale":{"domain":[-10.35,10.35],"nice":false},"axis":{"orient":"bottom","values":[-10,-5,0,5,10],"tickSize":-10,"labelPadding":27,"format":"d","title":"ΔX (arcsec)","titlePadding":5}},
"y":{"field":"y","type":"quantitative","scale":{"domain":[-10.35,10.35],"nice":false},"axis":{"orient":"left","values":[-10,-5,0,5,10],"tickSize":-10,"labelPadding":16,"format":"d","title":"ΔY (arcsec)","titlePadding":0}},
"color":{"field":"v","type":"quantitative","legend":null,"scale":{"interpolate":"rgb","domain":[780,795,803,810,823,843,863,900],"range":["#000080","#0000ff","#008080","#00ff00","#ffff00","#ff8000","#ff0000","#6e0000"]}}}},
{"data":{"name":"stars"},"transform":[{"filter":"datum.d === 1"}],"mark":{"type":"rect","width":23.4,"height":23.4,"clip":true,"color":"black","opacity":0.12},"encoding":{"x":{"field":"x","type":"quantitative","axis":null},"y":{"field":"y","type":"quantitative","axis":null}}},
{"data":{"name":"stars"},"transform":[{"filter":"datum.v === null"}],"mark":{"type":"rect","width":23.8,"height":23.8,"clip":true,"color":"#808080"},"encoding":{"x":{"field":"x","type":"quantitative","axis":null},"y":{"field":"y","type":"quantitative","axis":null}}},
{"data":{"name":"starLines"},"mark":{"type":"line","color":"black","strokeWidth":1.1,"interpolate":"linear"},"encoding":{"x":{"field":"x","type":"quantitative","axis":{"orient":"top","values":[-10,-5,0,5,10],"tickSize":-10,"labels":false,"title":null}},"y":{"field":"y","type":"quantitative","axis":{"orient":"right","values":[-10,-5,0,5,10],"tickSize":-10,"labels":false,"title":null}},"detail":{"field":"c"},"order":{"field":"i"}}},
{"data":{"name":"starLines"},"mark":{"type":"point","opacity":0},"encoding":{"x":{"field":"x","type":"quantitative","axis":{"orient":"bottom","values":[-9,-8,-7,-6,-4,-3,-2,-1,1,2,3,4,6,7,8,9],"tickSize":-5,"labels":false,"domain":false,"title":null}},"y":{"field":"y","type":"quantitative","axis":{"orient":"left","values":[-9,-8,-7,-6,-4,-3,-2,-1,1,2,3,4,6,7,8,9],"tickSize":-5,"labels":false,"domain":false,"title":null}}}},
{"data":{"name":"starLines"},"mark":{"type":"point","opacity":0},"encoding":{"x":{"field":"x","type":"quantitative","axis":{"orient":"top","values":[-9,-8,-7,-6,-4,-3,-2,-1,1,2,3,4,6,7,8,9],"tickSize":-5,"labels":false,"domain":false,"title":null}},"y":{"field":"y","type":"quantitative","axis":{"orient":"right","values":[-9,-8,-7,-6,-4,-3,-2,-1,1,2,3,4,6,7,8,9],"tickSize":-5,"labels":false,"domain":false,"title":null}}}}
],"resolve":{"axis":{"x":"independent","y":"independent"}}}
]}
